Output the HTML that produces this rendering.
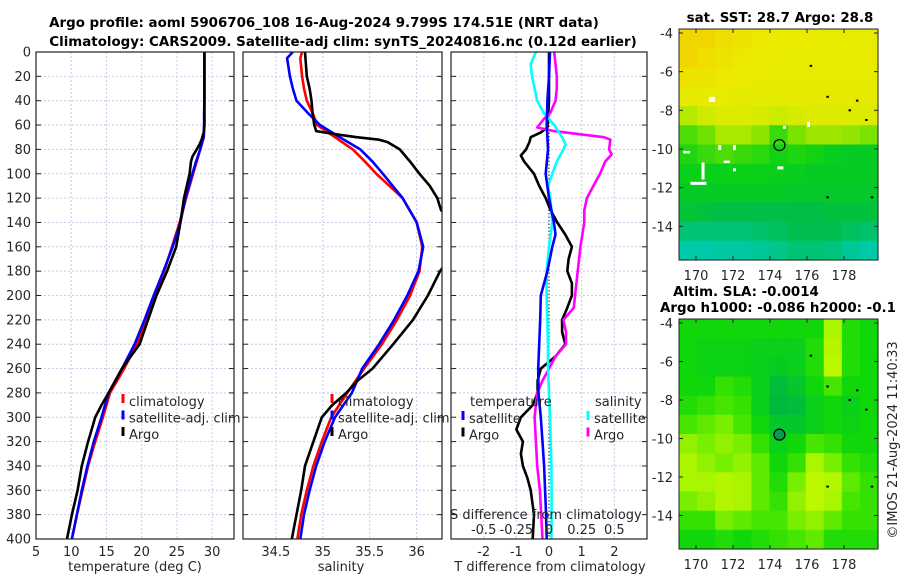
<!DOCTYPE html>
<html><head><meta charset="utf-8"><style>
body{margin:0;background:#fff}
svg{display:block;font-family:"DejaVu Sans","Liberation Sans",sans-serif}
</style></head><body>
<svg id="c" width="900" height="580" viewBox="0 0 900 580" xmlns="http://www.w3.org/2000/svg">
<text x="324" y="27" font-size="13.4" font-weight="bold" text-anchor="middle">Argo profile: aoml 5906706_108 16-Aug-2024 9.799S 174.51E (NRT data)</text>
<text x="343" y="46" font-size="13.4" font-weight="bold" text-anchor="middle">Climatology: CARS2009. Satellite-adj clim: synTS_20240816.nc (0.12d earlier)</text>
<g id="g"></g>
</svg>
<script>
// ---- profile data (depth in m) ----
const depthsT = [0,10,20,30,40,50,60,70,80,90,100,120,140,160,180,200,220,240,260,280,300,320,340,360,380,400];
const tempClim = [28.9,28.9,28.9,28.9,28.9,28.9,28.9,28.8,28.3,27.8,27.3,26.3,25.4,24.3,23.2,21.9,20.6,19.3,17.5,15.5,14.5,13.4,12.4,11.6,10.8,10.1];
const tempSat  = [28.9,28.9,28.9,28.9,28.9,28.85,28.85,28.8,28.3,27.7,27.2,26.2,25.5,24.4,23.1,21.7,20.4,19.0,17.2,15.3,14.3,13.2,12.3,11.5,10.8,10.1];
const depthsTA = [0,20,40,60,66,72,76,80,86,90,100,110,120,140,160,180,200,220,240,260,280,290,300,310,320,340,360,380,400];
const tempArgo = [28.9,28.9,28.9,28.9,28.8,28.5,28.2,27.8,27.2,27.0,26.8,26.4,26.0,25.5,24.9,23.6,22.1,20.9,19.7,17.2,15.3,14.3,13.4,12.9,12.4,11.5,10.9,10.1,9.4];
const depthsS = [0,5,20,30,40,50,60,70,80,90,100,120,140,160,180,200,220,240,260,280,300,320,340,360,380,400];
const salClim = [34.78,34.76,34.78,34.80,34.83,34.89,34.94,35.13,35.32,35.45,35.57,35.85,36.00,36.06,36.03,35.93,35.79,35.63,35.44,35.26,35.09,34.99,34.90,34.83,34.77,34.73];
const salSat  = [34.68,34.62,34.65,34.68,34.72,34.84,34.97,35.18,35.40,35.53,35.64,35.85,36.00,36.07,36.02,35.90,35.76,35.60,35.42,35.31,35.13,35.02,34.93,34.86,34.80,34.76];
const depthsSA = [0,20,30,40,50,60,65,68,70,72,74,80,90,100,110,120,130,140,160,180,200,220,240,260,270,280,290,300,320,340,360,380,400];
const salArgo = [34.81,34.83,34.86,34.88,34.89,34.91,34.93,35.18,35.36,35.60,35.69,35.82,35.93,36.03,36.14,36.22,36.26,36.40,36.45,36.25,36.12,35.96,35.75,35.53,35.37,35.25,35.10,34.99,34.90,34.81,34.77,34.72,34.67];
// ---- difference panel ----
const depthsDT = [0,20,40,60,70,80,100,120,140,150,160,180,200,220,240,260,280,300,320,340,360,380,400];
const tDiffSat = [0.03,0,-0.05,-0.07,-0.05,-0.03,-0.1,0,0.15,0.2,0.1,-0.05,-0.25,-0.27,-0.3,-0.33,-0.32,-0.25,-0.2,-0.15,-0.12,-0.09,-0.07];
const depthsDTA = [0,40,62,66,70,74,80,85,90,100,110,120,130,140,150,160,170,180,190,200,210,220,230,240,250,260,270,280,290,300,310,320,330,340,350,360,380,400];
const tDiffArgo = [0,0,-0.05,-0.25,-0.56,-0.6,-0.7,-0.86,-0.76,-0.46,-0.3,-0.1,0.05,0.25,0.5,0.7,0.6,0.56,0.7,0.7,0.56,0.4,0.4,0.5,0.2,-0.25,-0.35,-0.35,-0.5,-0.86,-1.0,-0.8,-0.86,-0.8,-0.66,-0.56,-0.46,-0.5];
const depthsDS = [0,10,20,30,40,50,60,70,76,80,90,100,110,120,140,160,180,200,220,240,260,280,300,320,340,360,380,400];
const sDiffSat = [-0.1,-0.14,-0.13,-0.11,-0.09,-0.04,0.04,0.1,0.127,0.11,0.06,0.025,-0.008,0.01,0.025,0,-0.018,-0.018,-0.013,-0.008,-0.008,0,0.008,0.013,0.018,0.02,0.02,0.018];
const depthsDSA = [0,10,20,30,40,50,55,62,65,68,70,72,80,84,90,100,110,120,130,140,160,170,180,200,210,220,230,240,250,260,270,280,300,320,340,360,380,400];
const sDiffArgo = [0.04,0.05,0.06,0.06,0.05,0.01,-0.04,-0.09,0.04,0.27,0.42,0.47,0.46,0.48,0.43,0.39,0.34,0.29,0.27,0.27,0.24,0.23,0.22,0.2,0.19,0.11,0.13,0.13,0.05,0,-0.05,-0.09,-0.11,-0.1,-0.09,-0.07,-0.06,-0.05];
// ---- map grids (rows lat -4..-15, cols lon 169..179) ----
const sstGrid = [
[0.95,0.95,0.92,0.9,0.88,0.87,0.87,0.86,0.86,0.86,0.86],
[0.95,0.92,0.9,0.88,0.87,0.86,0.86,0.86,0.86,0.86,0.86],
[0.9,0.9,0.88,0.87,0.86,0.86,0.86,0.86,0.86,0.86,0.86],
[0.85,0.86,0.86,0.85,0.85,0.85,0.85,0.85,0.85,0.85,0.85],
[0.72,0.78,0.82,0.82,0.8,0.76,0.8,0.82,0.82,0.82,0.82],
[0.55,0.6,0.7,0.7,0.65,0.52,0.62,0.68,0.68,0.66,0.62],
[0.48,0.52,0.55,0.52,0.5,0.46,0.48,0.46,0.42,0.4,0.4],
[0.44,0.44,0.44,0.44,0.44,0.43,0.42,0.4,0.4,0.4,0.4],
[0.4,0.4,0.4,0.4,0.4,0.4,0.38,0.38,0.38,0.38,0.38],
[0.35,0.32,0.3,0.3,0.3,0.3,0.3,0.3,0.32,0.32,0.32],
[0.2,0.2,0.2,0.2,0.22,0.25,0.28,0.28,0.28,0.25,0.22],
[0.08,0.08,0.1,0.1,0.12,0.15,0.2,0.2,0.18,0.12,0.08]];
const slaGrid = [
[0.45,0.45,0.45,0.45,0.45,0.45,0.45,0.45,0.8,0.5,0.45],
[0.45,0.42,0.42,0.42,0.4,0.4,0.4,0.5,0.85,0.5,0.45],
[0.45,0.42,0.42,0.42,0.4,0.38,0.4,0.5,0.9,0.5,0.45],
[0.45,0.45,0.55,0.5,0.4,0.3,0.35,0.45,0.6,0.45,0.45],
[0.5,0.55,0.6,0.55,0.4,0.25,0.3,0.4,0.45,0.4,0.45],
[0.6,0.65,0.7,0.6,0.45,0.35,0.35,0.4,0.45,0.42,0.45],
[0.75,0.7,0.75,0.7,0.55,0.4,0.45,0.6,0.55,0.45,0.45],
[0.8,0.75,0.7,0.75,0.65,0.45,0.55,0.8,0.7,0.55,0.5],
[0.8,0.8,0.85,0.8,0.65,0.5,0.7,0.9,0.85,0.65,0.55],
[0.7,0.75,0.85,0.8,0.65,0.55,0.75,0.9,0.8,0.6,0.55],
[0.55,0.55,0.7,0.65,0.6,0.6,0.7,0.75,0.65,0.55,0.55],
[0.45,0.45,0.5,0.45,0.5,0.55,0.6,0.65,0.5,0.5,0.5]];
const floatLon = 174.51, floatLat = -9.8;
const depthTicks = [0,20,40,60,80,100,120,140,160,180,200,220,240,260,280,300,320,340,360,380,400];
const tempTicks = [5,10,15,20,25,30];
const salTicks = [34.5,35,35.5,36];
const tdTicks = [-2,-1,0,1,2];
const sdTickLabels = ['-0.5','-0.25','0','0.25','0.5'];
const sdTicks = [-0.5,-0.25,0,0.25,0.5];
const latTicks = [-4,-6,-8,-10,-12,-14];
const lonTicks = [170,172,174,176,178];

const NS='http://www.w3.org/2000/svg';
const G=document.getElementById('g');
function el(tag,attrs,parent){const e=document.createElementNS(NS,tag);for(const k in attrs)e.setAttribute(k,attrs[k]);(parent||G).appendChild(e);return e;}
function txt(x,y,s,anchor,size,parent){const t=el('text',{x:x,y:y,'font-size':size||13,'text-anchor':anchor||'middle',fill:'#262626'},parent);t.textContent=s;return t;}

const Y0=52,Y1=539;
const dy=d=>Y0+(Y1-Y0)*d/400;
function panel(name,x0,x1,xmin,xmax,grid,clipId){
  const g=el('g',{});
  
  
  const sx=v=>x0+(v-xmin)/(xmax-xmin)*(x1-x0);
  const cp=el('clipPath',{id:clipId},g);el('rect',{x:x0,y:Y0,width:x1-x0,height:Y1-Y0},cp);
  depthTicks.forEach(d=>{ if(d>0&&d<400) el('line',{x1:x0,x2:x1,y1:dy(d),y2:dy(d),stroke:'#c4cbe6','stroke-dasharray':'2,2','stroke-width':1},g);
    el('line',{x1:x0,x2:x0+5,y1:dy(d),y2:dy(d),stroke:'#222'},g); el('line',{x1:x1-5,x2:x1,y1:dy(d),y2:dy(d),stroke:'#222'},g);});
  grid.forEach(v=>{ el('line',{x1:sx(v),x2:sx(v),y1:Y0,y2:Y1,stroke:'#c4cbe6','stroke-dasharray':'2,2','stroke-width':1},g);});
  return {g,sx};
}
function line(p,xs,ds,color,w,name,clipId,sxf){
  const sx=sxf||p.sx;
  const pts=xs.map((v,i)=>sx(v).toFixed(1)+','+dy(ds[i]).toFixed(1)).join(' ');
  const l=el('polyline',{points:pts,fill:'none',stroke:color,'stroke-width':w||2.6,'stroke-linejoin':'round','clip-path':'url(#'+clipId+')'},p.g);
  
  
}
function box(p,x0,x1){el('rect',{x:x0,y:Y0,width:x1-x0,height:Y1-Y0,fill:'none',stroke:'#222','stroke-width':1.2},p.g);}
function legend(p,x,y,items){items.forEach((it,i)=>{
  const yy=y+i*16.5;
  el('line',{x1:x,x2:x,y1:yy-12,y2:yy-3,stroke:it[1],'stroke-width':3},p.g);
  const t=txt(x+6,yy,it[0],'start',13,p.g);
  
  
});}

// Panel 1 temperature
const p1=panel('temperature-panel',36,234,5,33.1,[10,15,20,25,30],'cp1');
line(p1,tempClim,depthsT,'#ff0000',2.6,'temp-climatology-line','cp1');
line(p1,tempSat,depthsT,'#0000ff',2.6,'temp-satellite-line','cp1');
line(p1,tempArgo,depthsTA,'#000000',2.6,'temp-argo-line','cp1');
box(p1,36,234);
depthTicks.forEach(d=>txt(31,dy(d)+4.5,String(d),'end',13,p1.g));
tempTicks.forEach(v=>txt(p1.sx(v),556,String(v),'middle',13,p1.g));
txt(135,571,'temperature (deg C)','middle',13,p1.g);
legend(p1,123,406,[['climatology','#ff0000'],['satellite-adj. clim','#0000ff'],['Argo','#000000']]);

// Panel 2 salinity
const p2=panel('salinity-panel',243,442,34.15,36.27,[34.5,35,35.5,36],'cp2');
line(p2,salClim,depthsS,'#ff0000',2.6,'sal-climatology-line','cp2');
line(p2,salSat,depthsS,'#0000ff',2.6,'sal-satellite-line','cp2');
line(p2,salArgo,depthsSA,'#000000',2.6,'sal-argo-line','cp2');
box(p2,243,442);
salTicks.forEach(v=>txt(p2.sx(v),556,String(v),'middle',13,p2.g));
txt(341,571,'salinity','middle',13,p2.g);
legend(p2,332,406,[['climatology','#ff0000'],['satellite-adj. clim','#0000ff'],['Argo','#000000']]);

// Panel 3 differences
const p3=panel('difference-panel',451,647,-3,3,[-2,-1,1,2],'cp3');
const sxS=v=>p3.sx(v*4);
el('line',{x1:p3.sx(0),x2:p3.sx(0),y1:Y0,y2:Y1,stroke:'#444','stroke-dasharray':'1.5,2','stroke-width':1.2},p3.g);
line(p3,tDiffArgo,depthsDTA,'#000000',2.6,'tdiff-argo-line','cp3');
line(p3,sDiffArgo,depthsDSA,'#ff00ff',2.6,'sdiff-argo-line','cp3',sxS);
line(p3,sDiffSat,depthsDS,'#00ffff',2.6,'sdiff-satellite-line','cp3',sxS);
line(p3,tDiffSat,depthsDT,'#0000ff',2.6,'tdiff-satellite-line','cp3');
box(p3,451,647);
tdTicks.forEach(v=>txt(p3.sx(v),556,String(v),'middle',13,p3.g));
sdTicks.forEach((v,i)=>txt(sxS(v),534,sdTickLabels[i],'middle',13,p3.g));
txt(450,519,'S difference from climatology','start',13,p3.g);
txt(550,571,'T difference from climatology','middle',13,p3.g);
txt(470,406,'temperature','start',13,p3.g);
legend(p3,463,423,[['satellite','#0000ff'],['Argo','#000000']]);
txt(595,406,'salinity','start',13,p3.g);
legend(p3,588,423,[['satellite','#00ffff'],['Argo','#ff00ff']]);

// Maps
function sstColor(v){const stops=[[0,[0,205,205]],[0.3,[0,190,70]],[0.45,[10,210,20]],[0.6,[110,225,0]],[0.75,[200,235,0]],[0.87,[235,235,0]],[1,[245,200,0]]];
  return interp(stops,v);}
function slaColor(v){const stops=[[0,[0,160,70]],[0.3,[0,190,60]],[0.45,[15,215,10]],[0.6,[70,230,0]],[0.8,[170,245,0]],[1,[205,250,0]]];return interp(stops,v);}
function interp(stops,v){for(let i=1;i<stops.length;i++){if(v<=stops[i][0]){const a=stops[i-1],b=stops[i],t=(v-a[0])/(b[0]-a[0]);
  return 'rgb('+a[1].map((c,k)=>Math.round(c+(b[1][k]-c)*t)).join(',')+')';}}return 'rgb('+stops[stops.length-1][1].join(',')+')';}
function map(name,top,bottom,gridV,colorFn){
  const g=el('g',{});
  
  
  const L=679,R=878,lonMin=169.08,lonMax=179.84;
  const pxDeg=(bottom-top)/11.95;
  const lx=l=>L+(l-lonMin)/(lonMax-lonMin)*(R-L);
  const ly=la=>top+4+(-4-la)*pxDeg;
  const nr=gridV.length,nc=gridV[0].length,cw=(R-L)/nc,ch=(bottom-top)/nr;
  gridV.forEach((row,i)=>row.forEach((v,j)=>{
    const c=el('rect',{x:(L+j*cw).toFixed(2),y:(top+i*ch).toFixed(2),width:(cw+0.6).toFixed(2),height:(ch+0.6).toFixed(2),fill:colorFn(v)},g);
    
    
  }));
  latTicks.forEach(la=>{const y=ly(la);txt(673,y+5,String(la),'end',13,g);el('line',{x1:L,x2:L+4,y1:y,y2:y,stroke:'#222'},g);el('line',{x1:R-4,x2:R,y1:y,y2:y,stroke:'#222'},g);});
  lonTicks.forEach(lo=>{const x=lx(lo);txt(x,bottom+20,String(lo),'middle',13,g);el('line',{x1:x,x2:x,y1:bottom-4,y2:bottom,stroke:'#222'},g);el('line',{x1:x,x2:x,y1:top,y2:top+4,stroke:'#222'},g);});
  const dots=[[176.2,-5.7],[177.1,-7.3],[178.7,-7.5],[178.3,-8.0],[179.2,-8.5],[177.1,-12.5],[179.5,-12.5]];
  dots.forEach(d=>el('rect',{x:lx(d[0])-1,y:ly(d[1])-1,width:2.5,height:2,fill:'#000'},g));
  const c=el('circle',{cx:lx(floatLon),cy:ly(floatLat),r:5.5,fill:'none',stroke:'#000','stroke-width':1.2},g);
  
  
  el('rect',{x:L,y:top,width:R-L,height:bottom-top,fill:'none',stroke:'#222'},g);
  return {g,lx,ly};
}
const m1=map('sst-map',29,260,sstGrid,sstColor);
[[170.7,-7.3,6,5],[169.3,-10.1,7,2.5],[171.2,-9.8,3,5],[172,-9.8,3,5],[171.5,-10.6,6,2.5],[172,-11,3,3],[170.3,-10.7,3,17],[169.7,-11.7,16,3],[174.7,-8.8,3,3],[176,-8.6,3,5],[174.4,-10.9,6,3]]
  .forEach(w=>el('rect',{x:m1.lx(w[0]),y:m1.ly(w[1]),width:w[2],height:w[3],fill:'#fff'},m1.g));
const t1=txt(780,22,'sat. SST: 28.7 Argo: 28.8','middle',13.4,m1.g);t1.setAttribute('font-weight','bold');t1.setAttribute('fill','#000');
const m2=map('sla-map',319,549,slaGrid,slaColor);
m2.g.querySelector('circle').setAttribute('fill','#00a050');
const t2=txt(746,296,'Altim. SLA: -0.0014','middle',13.4,m2.g);t2.setAttribute('font-weight','bold');t2.setAttribute('fill','#000');
const t3=txt(778,312,'Argo h1000: -0.086 h2000: -0.1','middle',13.4,m2.g);t3.setAttribute('font-weight','bold');t3.setAttribute('fill','#000');
const cr=txt(0,0,'©IMOS 21-Aug-2024 11:40:33','middle',13);
cr.setAttribute('transform','translate(897,440) rotate(-90)');


</script>
</body></html>
